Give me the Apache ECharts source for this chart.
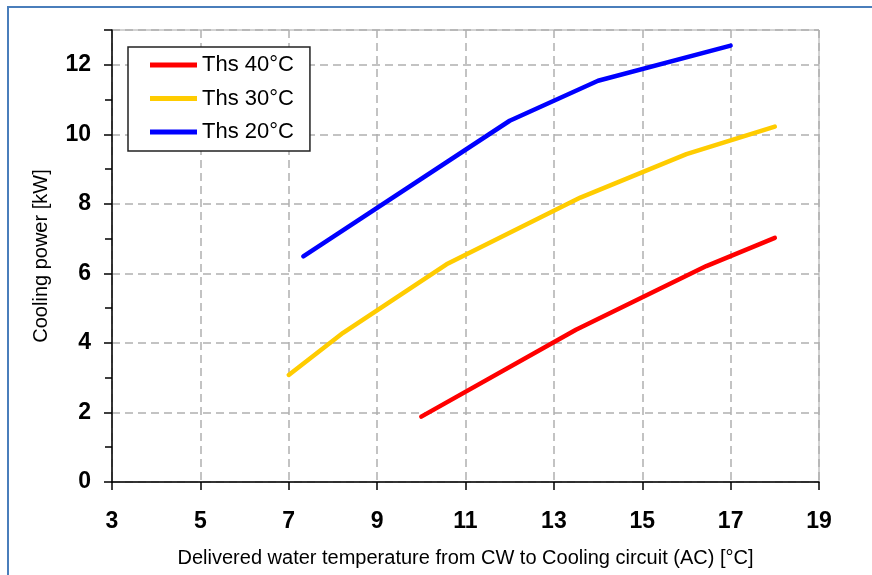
<!DOCTYPE html>
<html>
<head>
<meta charset="utf-8">
<script src="https://cdn.jsdelivr.net/npm/echarts@6/dist/echarts.min.js"></script>
<style>
html,body{margin:0;padding:0;background:#fff;}
#chart{width:872px;height:575px;}
</style>
</head>
<body>
<div id="chart"></div>
<script>
// Data
const seriesNames = ['Ths 40°C', 'Ths 30°C', 'Ths 20°C'];
const ths40 = [[10.0, 1.88], [13.5, 4.38], [16.45, 6.21], [18.0, 7.02]];
const ths30 = [[7.0, 3.08], [8.23, 4.29], [10.57, 6.26], [13.6, 8.18], [16.0, 9.43], [18.0, 10.22]];
const ths20 = [[7.33, 6.49], [12.0, 10.39], [14.0, 11.54], [17.0, 12.55]];
const xTicks = { min: 3, max: 19, step: 2 };
const yTicks = { min: 0, max: 13, step: 2 };

const FONT = 'Liberation Sans, Arial, sans-serif';
const colors = ['#ff0000', '#ffcc00', '#0000ff'];
const dataSets = [ths40, ths30, ths20];

const chart = echarts.init(document.getElementById('chart'), null, { renderer: 'canvas' });

const gridLine = { show: true, lineStyle: { color: '#b0b0b0', width: 1.5, type: [8, 5] } };

const option = {
  animation: false,
  backgroundColor: '#ffffff',
  graphic: [{
    type: 'rect',
    x: 8, y: 7,
    shape: { x: 0, y: 0, width: 900, height: 600 },
    style: { fill: 'none', stroke: '#4a7ebb', lineWidth: 2 },
    silent: true
  }],
  grid: {
    left: 112, top: 30, right: 53, bottom: 93,
    show: true, borderColor: '#a6a6a6', borderWidth: 1, backgroundColor: '#fff'
  },
  legend: {
    orient: 'vertical',
    left: 128, top: 47,
    padding: [7, 16, 8, 22],
    itemGap: 11.5,
    itemWidth: 47, itemHeight: 5,
    itemTextGap: 6,
    icon: 'rect',
    borderColor: '#222', borderWidth: 1.5,
    backgroundColor: '#fff',
    textStyle: { fontFamily: FONT, fontSize: 22, color: '#000', lineHeight: 22 },
    data: seriesNames
  },
  xAxis: {
    type: 'value',
    min: xTicks.min, max: xTicks.max, interval: xTicks.step,
    name: 'Delivered water temperature from CW to Cooling circuit (AC) [°C]',
    nameLocation: 'middle', nameGap: 66,
    nameTextStyle: { fontFamily: FONT, fontSize: 20, color: '#000' },
    axisLine: { show: true, onZero: false, lineStyle: { color: '#000', width: 1.5 } },
    axisTick: { show: true, length: 8, lineStyle: { color: '#000', width: 1.5 } },
    axisLabel: { fontFamily: FONT, fontSize: 23, fontWeight: 'bold', color: '#000', margin: 28 },
    splitLine: gridLine
  },
  yAxis: [{
    type: 'value',
    min: yTicks.min, max: yTicks.max, interval: yTicks.step,
    name: 'Cooling power [kW]',
    nameLocation: 'middle', nameGap: 61,
    nameTextStyle: { fontFamily: FONT, fontSize: 20, color: '#000' },
    axisLine: { show: true, onZero: false, lineStyle: { color: '#000', width: 1.5 } },
    axisTick: { show: true, length: 8, lineStyle: { color: '#000', width: 1.5 } },
    axisLabel: {
      fontFamily: FONT, fontSize: 23, fontWeight: 'bold', color: '#000', margin: 21,
      formatter: v => (v % yTicks.step === 0 ? String(v) : '')
    },
    splitLine: gridLine
  }, {
    type: 'value', position: 'left',
    min: yTicks.min, max: yTicks.max, interval: 1,
    axisLine: { show: false },
    axisTick: { show: true, length: 7, lineStyle: { color: '#000', width: 1.5 } },
    axisLabel: { show: false },
    splitLine: { show: false }
  }],
  series: dataSets.map((d, i) => ({
    name: seriesNames[i],
    type: 'line',
    data: d,
    yAxisIndex: 0,
    symbol: 'none',
    smooth: false,
    color: colors[i],
    lineStyle: { color: colors[i], width: 4.5, cap: 'round', join: 'round' },
    z: 3
  }))
};

chart.setOption(option);
</script>
</body>
</html>
